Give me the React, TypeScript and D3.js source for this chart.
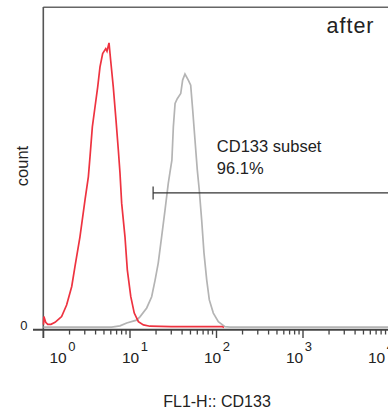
import React from "react";
import * as d3 from "d3";

const W = 388;
const H = 411;

// FL1-H channel values (log axis) and counts (% of axis max)
const redFL1 = [1.0, 1.01, 1.06, 1.12, 1.22, 1.36, 1.5, 1.62, 1.85, 2.12, 2.31, 2.64, 3.02, 3.3, 3.45, 3.67, 3.94, 4.23, 4.5, 4.83, 5.24, 5.42, 5.72, 5.98, 6.41, 6.89, 7.33, 7.66, 8.01, 8.75, 9.31, 10.2, 11.2, 12.5, 14.3, 17.0, 30, 60, 116, 122];
const redCount = [0.9, 3.4, 1.6, 1.0, 1.0, 1.6, 2.6, 3.4, 7.0, 12.8, 19.0, 28.3, 39.8, 47.0, 53.3, 62.6, 68.8, 75.0, 81.3, 85.5, 87.0, 86.2, 88.8, 83.3, 75.0, 64.7, 55.4, 48.2, 38.8, 28.3, 18.0, 9.7, 4.5, 1.8, 0.8, 0.4, 0.3, 0.3, 0.3, 0];

const grayFL1 = [1, 6.14, 7.66, 9.16, 11.9, 13.1, 15.6, 17.8, 19.5, 21.2, 23.2, 25.4, 27.7, 29.0, 30.5, 31.7, 33.2, 35.2, 38.6, 40.6, 43.2, 47.2, 50.3, 53.1, 56.4, 60.0, 63.2, 67.4, 71.7, 77.1, 82.6, 91.9, 105, 125, 143, 10000];
const grayCount = [0.1, 0.1, 0.5, 1.4, 2.3, 3.4, 6.1, 9.6, 14.8, 20.1, 28.3, 36.6, 45.0, 48.5, 52.2, 62.6, 69.9, 71.4, 73.0, 77.2, 79.1, 77.2, 75.6, 67.8, 58.5, 49.1, 42.9, 33.5, 23.2, 14.8, 8.6, 4.5, 1.8, 0.25, 0.1, 0.1];

const decades = [1, 10, 100, 1000, 10000];
const decadeExp = ["0", "1", "2", "3", "4"];
const yTicks = [0];

const gateStart = 18.5;
const gateEnd = 10000;
const gateCount = 42;
const gateName = "CD133 subset";
const gatePct = "96.1%";
const sampleLabel = "after";
const xTitle = "FL1-H:: CD133";
const yTitle = "count";

export default function App() {
  const x = d3.scaleLog().domain([1, 10000]).range([43.5, 389.5]);
  const y = d3.scaleLinear().domain([0, 100]).range([327.5, 7]);
  const labelX = d3.scaleLog().domain([10, 10000]).range([122, 368]);

  const minor: number[] = [];
  for (let i = 0; i < 4; i++) {
    for (let m = 2; m <= 9; m++) minor.push(decades[i] * m);
  }

  const line = d3
    .line<[number, number]>()
    .x((d) => x(d[0]))
    .y((d) => y(d[1]));

  const redPts = redFL1.map((v, i) => [v, redCount[i]] as [number, number]);
  const grayPts = grayFL1.map((v, i) => [v, grayCount[i]] as [number, number]);

  const font = "'Liberation Sans', Arial, sans-serif";
  const axisY = 329.7;
  const gy = y(gateCount);

  return (
    <svg
      width={W}
      height={H}
      style={{ position: "absolute", left: 0, top: 0, background: "#fff" }}
      fontFamily={font}
    >
      <rect x={0} y={0} width={W} height={H} fill="#fff" />
      {/* frame */}
      <line x1={43.3} x2={W} y1={7.3} y2={7.3} stroke="#666" strokeWidth={1.4} />
      <line x1={43.3} x2={43.3} y1={7} y2={338} stroke="#555" strokeWidth={1.6} />
      <line x1={33} x2={W} y1={axisY} y2={axisY} stroke="#444" strokeWidth={2} />
      {/* x ticks */}
      {decades.map((d) => (
        <line key={"M" + d} x1={x(d)} x2={x(d)} y1={axisY} y2={338} stroke="#444" strokeWidth={1.4} />
      ))}
      {minor.map((d) => (
        <line key={"m" + d} x1={x(d)} x2={x(d)} y1={axisY} y2={334.5} stroke="#444" strokeWidth={1.3} />
      ))}
      {decades.map((d, i) => {
        const lx = i === 0 ? x(d) + 6 : labelX(d);
        return (
          <text key={"l" + d} x={lx} y={362.7} fontSize={15.5} fill="#222">
            10
            <tspan fontSize={13} dy={-11.5} dx={1.5}>
              {decadeExp[i]}
            </tspan>
          </text>
        );
      })}
      {yTicks.map((t) => (
        <text key={"y" + t} x={27.5} y={329.5} fontSize={13} textAnchor="end" fill="#222">
          {t}
        </text>
      ))}
      {/* curves */}
      <path d={line(grayPts) || ""} fill="none" stroke="#b4b4b4" strokeWidth={1.7} />
      <path d={line(redPts) || ""} fill="none" stroke="#ee3340" strokeWidth={1.7} />
      {/* gate */}
      <line x1={x(gateStart)} x2={x(gateEnd)} y1={gy} y2={gy} stroke="#333" strokeWidth={1.2} />
      <line x1={x(gateStart)} x2={x(gateStart)} y1={gy - 6.5} y2={gy + 6.5} stroke="#333" strokeWidth={1.2} />
      <text x={x(101)} y={152} fontSize={16.5} fill="#222">
        {gateName}
      </text>
      <text x={x(101)} y={173.5} fontSize={16.5} fill="#222">
        {gatePct}
      </text>
      <text x={326.5} y={33.3} fontSize={21.5} letterSpacing={1} fill="#222">
        {sampleLabel}
      </text>
      <text x={217} y={407} fontSize={16} textAnchor="middle" fill="#222">
        {xTitle}
      </text>
      <text
        transform="translate(28,166) rotate(-90)"
        fontSize={16.5}
        textAnchor="middle"
        fill="#222"
      >
        {yTitle}
      </text>
    </svg>
  );
}
